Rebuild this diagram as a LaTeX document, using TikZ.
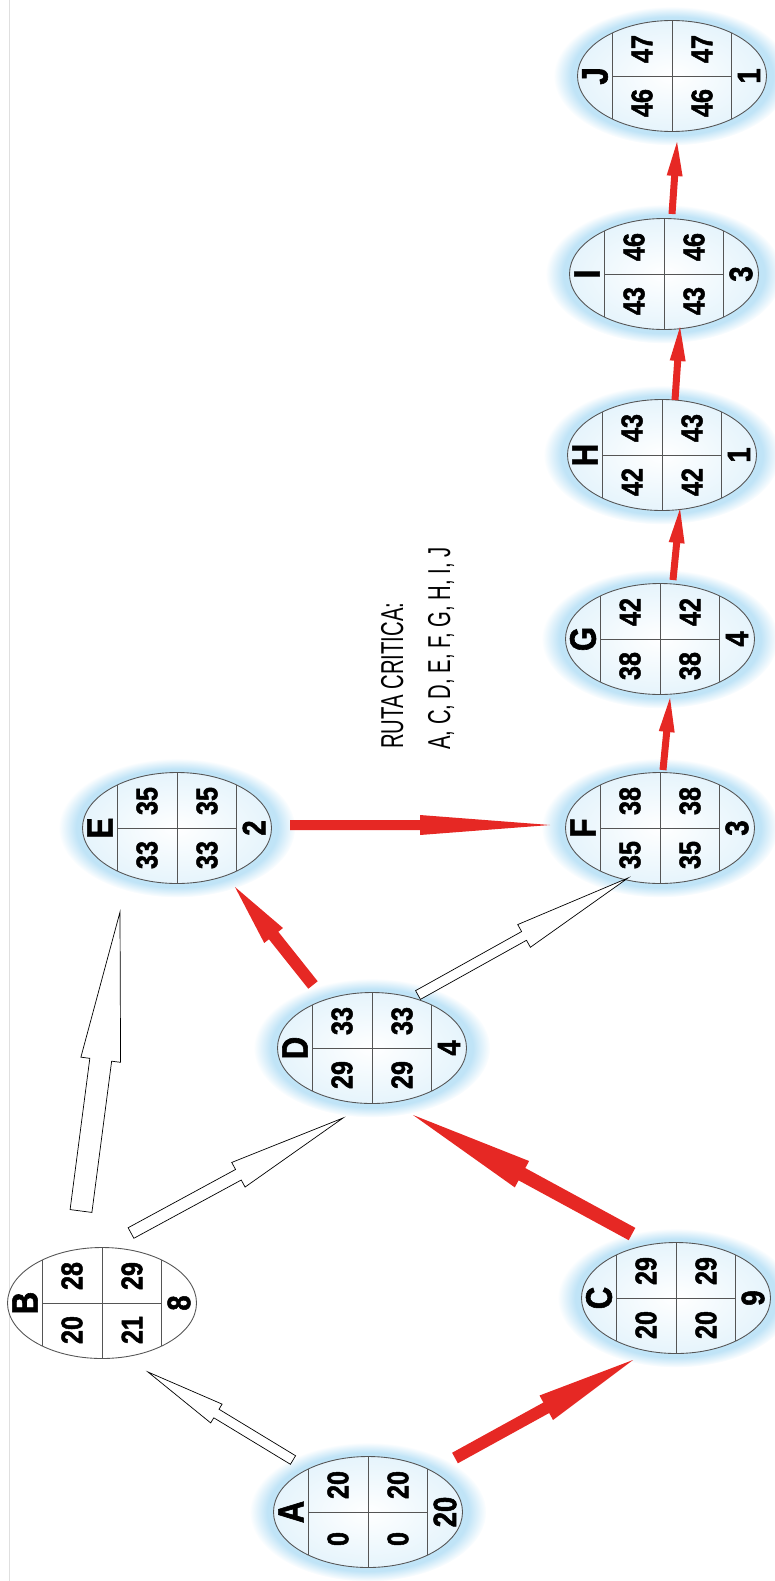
\documentclass[tikz,border=0pt]{standalone}
\usepackage{fontspec}
\setmainfont{Liberation Sans}
\newfontfamily\cellfont[FakeStretch=0.84, BoldFeatures={FakeBold=1.6}]{Liberation Sans}
\newfontfamily\notefont[FakeStretch=0.64]{Liberation Sans}
\usetikzlibrary{calc,shapes.geometric,shadows,fadings}
\definecolor{critred}{RGB}{230,40,36}
\definecolor{glowblue}{RGB}{140,205,240}
\definecolor{rimgray}{RGB}{85,85,85}
\tikzset{
  actbase/.style={draw=rimgray, line width=0.5pt, ellipse, minimum width=37.8mm, minimum height=22.2mm, inner sep=0pt},
  critact/.style={actbase, circular glow={fill=glowblue, opacity=0.55}, inner color=white, outer color=glowblue!22},
  plainact/.style={actbase, fill=white},
  cellline/.style={draw=rimgray, line width=0.5pt},
  lettertext/.style={rotate=90, inner sep=0pt, font=\cellfont\bfseries\fontsize{21}{21}\selectfont},
  numtext/.style={rotate=90, inner sep=0pt, font=\cellfont\bfseries\fontsize{17}{17}\selectfont},
  durtext/.style={rotate=90, inner sep=0pt, font=\cellfont\bfseries\fontsize{18.5}{18.5}\selectfont},
  rutatext/.style={rotate=90, inner sep=0pt, anchor=base west, font=\notefont\fontsize{18}{18}\selectfont},
  openarrow/.style={draw=black, line width=0.4pt, fill=white, line join=miter},
  critarrow/.style={fill=critred}
}
% name, position, letter, ES, EF, LS, LF, duration, style
\newcommand{\actnode}[9]{%
  \node[#9] (#1) at (#2) {};
  \draw[cellline] ($(#1)+(-59.5,-43)$) -- ($(#1)+(-59.5,43)$);
  \draw[cellline] ($(#1)+(0,-55.5)$) -- ($(#1)+(0,55.5)$);
  \draw[cellline] ($(#1)+(59.5,-43)$) -- ($(#1)+(59.5,43)$);
  \draw[cellline] ($(#1)+(-59.5,0)$) -- ($(#1)+(59.5,0)$);
  \node[lettertext] (#1-id) at ($(#1)+(-77,0)$) {#3};
  \node[numtext] (#1-es) at ($(#1)+(-30,27)$) {#4};
  \node[numtext] (#1-ef) at ($(#1)+(-30,-27)$) {#5};
  \node[numtext] (#1-ls) at ($(#1)+(30,27)$) {#6};
  \node[numtext] (#1-lf) at ($(#1)+(30,-27)$) {#7};
  \node[durtext] (#1-dur) at ($(#1)+(77,0)$) {#8};
}
% style, tail, tip, half shaft, half head, head length
\newcommand{\blockarrow}[6][critarrow]{%
  \coordinate (ba-b) at ($(#3)!#6*0.2mm!(#2)$);
  \path[#1] ($(#2)!#4*0.2mm!90:(#3)$) -- ($(ba-b)!#4*0.2mm!90:(#3)$)
    -- ($(ba-b)!#5*0.2mm!90:(#3)$) -- (#3) -- ($(ba-b)!#5*0.2mm!-90:(#3)$)
    -- ($(ba-b)!#4*0.2mm!-90:(#3)$) -- ($(#2)!#4*0.2mm!-90:(#3)$) -- cycle;
}

\begin{document}
\begin{tikzpicture}[x=0.2mm, y=-0.2mm]
  \useasboundingbox (0,0) rectangle (774,1581);
  \draw[gray!25] (9,0) -- (9,1581);

  \actnode{A}{368,1512}{A}{0}{20}{0}{20}{20}{critact}
  \actnode{B}{102,1303}{B}{20}{28}{21}{29}{8}{plainact}
  \actnode{C}{676,1298}{C}{20}{29}{20}{29}{9}{critact}
  \actnode{D}{372,1048}{D}{29}{33}{29}{33}{4}{critact}
  \actnode{E}{177,828}{E}{33}{35}{33}{35}{2}{critact}
  \actnode{F}{660,828}{F}{35}{38}{35}{38}{3}{critact}
  \actnode{G}{660,639}{G}{38}{42}{38}{42}{4}{critact}
  \actnode{H}{662,455}{H}{42}{43}{42}{43}{1}{critact}
  \actnode{I}{664,274}{I}{43}{46}{43}{46}{3}{critact}
  \actnode{J}{672,76}{J}{46}{47}{46}{47}{1}{critact}

  \node[rutatext] (ruta1) at (403,749) {RUTA CRITICA:};
  \node[rutatext] (ruta2) at (450,750) {A, C, D, E, F, G, H, I, J};

  \coordinate (ab-s) at ($(A)+(-75,-52)$);
  \coordinate (ab-e) at ($(B)+(46,69)$);
  \coordinate (ac-s) at ($(A)+(87,-54)$);
  \coordinate (ac-e) at ($(C)+(-43,62)$);
  \coordinate (bd-s) at ($(B)+(29,-70)$);
  \coordinate (bd-e) at ($(D)+(-29,70)$);
  \coordinate (be-s) at ($(B)+(-21,-92)$);
  \coordinate (be-e) at ($(E)+(-57,84)$);
  \coordinate (cd-s) at ($(C)+(-44,-64)$);
  \coordinate (cd-e) at ($(D)+(41,67)$);
  \coordinate (de-s) at ($(D)+(-59,-63)$);
  \coordinate (de-e) at ($(E)+(58,59)$);
  \coordinate (df-s) at ($(D)+(46,-53)$);
  \coordinate (df-e) at ($(F)+(-32,50)$);
  \coordinate (ef-s) at ($(E)+(113,-3)$);
  \coordinate (ef-e) at ($(F)+(-110,-3)$);
  \coordinate (fg-s) at ($(F)+(3,-58)$);
  \coordinate (fg-e) at ($(G)+(10,59)$);
  \coordinate (gh-s) at ($(G)+(13,-59)$);
  \coordinate (gh-e) at ($(H)+(18,54)$);
  \coordinate (hi-s) at ($(H)+(13,-55)$);
  \coordinate (hi-e) at ($(I)+(16,53)$);
  \coordinate (ij-s) at ($(I)+(8,-60)$);
  \coordinate (ij-e) at ($(J)+(5,66)$);

  \blockarrow[openarrow]{ab-s}{ab-e}{5}{11}{80}
  \blockarrow{ac-s}{ac-e}{6}{14}{99}
  \blockarrow[openarrow]{bd-s}{bd-e}{6}{14}{119}
  \blockarrow[openarrow]{be-s}{be-e}{11}{20}{149}
  \blockarrow{cd-s}{cd-e}{7}{15}{124}
  \blockarrow{de-s}{de-e}{6}{12}{62}
  \blockarrow[openarrow]{df-s}{df-e}{5}{13}{119}
  \blockarrow{ef-s}{ef-e}{5}{10}{130}
  \blockarrow{fg-s}{fg-e}{3.5}{8}{34}
  \blockarrow{gh-s}{gh-e}{3.5}{8}{34}
  \blockarrow{hi-s}{hi-e}{3.5}{8}{34}
  \blockarrow{ij-s}{ij-e}{3.5}{8}{34}
\end{tikzpicture}
\end{document}
